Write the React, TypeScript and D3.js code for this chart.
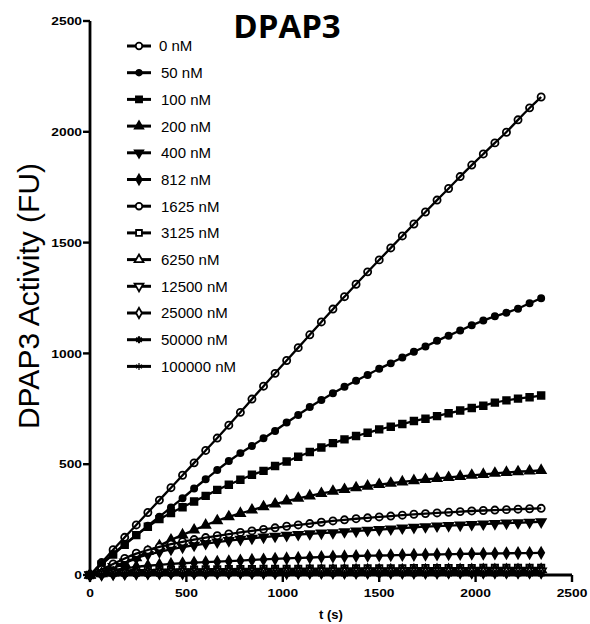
import React from "react";
import * as d3 from "d3";

const times = [0,60,120,180,240,300,360,420,480,540,600,660,720,780,840,900,960,1020,1080,1140,1200,1260,1320,1380,1440,1500,1560,1620,1680,1740,1800,1860,1920,1980,2040,2100,2160,2220,2280,2340];

const concentrations = ["0 nM","50 nM","100 nM","200 nM","400 nM","812 nM","1625 nM","3125 nM","6250 nM","12500 nM","25000 nM","50000 nM","100000 nM"];

const s0 = [0,56,114,170,226,282,338,394,450,506,562,618,676,734,794,852,910,968,1026,1084,1142,1200,1256,1312,1368,1422,1476,1530,1584,1638,1692,1744,1798,1850,1900,1950,1998,2054,2108,2157];
const s50 = [0,50,95,140,180,222,263,305,346,390,432,474,514,550,582,617,650,688,722,758,790,820,850,877,903,931,955,982,1007,1031,1057,1080,1103,1127,1148,1168,1183,1202,1226,1249];
const s100 = [0,48,92,136,180,218,252,280,306,332,357,384,407,430,452,470,492,512,534,555,575,595,612,627,642,657,669,681,695,705,717,730,742,754,764,778,788,796,802,810];
const s200 = [0,12,30,52,78,106,132,158,181,203,225,245,263,278,293,308,320,334,346,357,368,378,386,394,401,408,414,420,426,431,436,440,445,450,454,459,463,466,469,472];
const s400 = [0,18,38,58,76,92,105,116,126,134,142,149,155,161,166,171,175,179,183,186,189,191,195,198,202,205,208,212,215,218,221,223,225,228,230,232,234,236,238,240];
const s812 = [0,12,22,30,37,42,46,50,53,56,58,60,62,65,68,70,73,75,77,79,81,83,84,86,87,88,89,90,91,92,93,94,95,96,96,97,98,99,99,100];
const s1625 = [0,25,50,75,98,113,127,139,150,160,169,177,185,192,199,206,213,220,226,232,238,244,249,254,258,262,266,270,274,277,280,283,286,289,291,293,295,297,299,301];
const s3125 = [0,8,13,17,20,22,23,24,25,25,26,26,27,27,27,28,28,28,28,29,29,29,29,30,30,30,30,30,31,31,31,31,31,31,32,32,32,32,32,32];
const s6250 = [0,6,10,13,15,16,17,18,18,19,19,19,20,20,20,20,21,21,21,21,21,21,22,22,22,22,22,22,22,22,23,23,23,23,23,23,23,23,23,24];
const s12500 = [0,4,7,9,10,11,12,12,13,13,13,14,14,14,14,14,15,15,15,15,15,15,15,15,16,16,16,16,16,16,16,16,16,16,17,17,17,17,17,17];
const s25000 = [0,3,5,6,7,8,8,9,9,9,9,10,10,10,10,10,10,10,10,11,11,11,11,11,11,11,11,11,11,11,11,12,12,12,12,12,12,12,12,12];
const s50000 = [0,2,3,4,4,5,5,5,5,5,6,6,6,6,6,6,6,6,6,6,6,6,6,6,7,7,7,7,7,7,7,7,7,7,7,7,7,7,7,7];
const s100000 = [0,1,1,2,2,2,2,2,2,3,3,3,3,3,3,3,3,3,3,3,3,3,3,3,3,3,3,3,3,3,3,3,3,3,3,3,3,3,3,3];

const seriesValues = [s0, s50, s100, s200, s400, s812, s1625, s3125, s6250, s12500, s25000, s50000, s100000];

const yTicks = [0, 500, 1000, 1500, 2000, 2500];
const xTicks = [0, 500, 1000, 1500, 2000, 2500];

type Mk = { type: d3.SymbolType; size: number; filled: boolean; rot?: number; sw?: number };
const markers: Mk[] = [
  { type: d3.symbolCircle, size: 40, filled: false },
  { type: d3.symbolCircle, size: 30, filled: true },
  { type: d3.symbolSquare, size: 44, filled: true },
  { type: d3.symbolTriangle, size: 36, filled: true },
  { type: d3.symbolTriangle, size: 36, filled: true, rot: 180 },
  { type: d3.symbolDiamond, size: 32, filled: true },
  { type: d3.symbolCircle, size: 40, filled: false },
  { type: d3.symbolSquare, size: 40, filled: false },
  { type: d3.symbolTriangle, size: 40, filled: false },
  { type: d3.symbolTriangle, size: 40, filled: false, rot: 180 },
  { type: d3.symbolDiamond, size: 36, filled: false },
  { type: d3.symbolAsterisk, size: 40, filled: false, sw: 2.2 },
  { type: d3.symbolAsterisk, size: 40, filled: false, sw: 1.2 },
];

const W = 590, H = 624;
const x = d3.scaleLinear().domain([0, 2500]).range([90, 572]);
const y = d3.scaleLinear().domain([0, 2500]).range([575, 21]);

function Marker({ m, cx, cy, scale = 1 }: { m: Mk; cx: number; cy: number; scale?: number }) {
  const d = d3.symbol().type(m.type).size(m.size * scale)() as string;
  return (
    <path
      d={d}
      transform={`translate(${cx},${cy})${m.rot ? ` rotate(${m.rot})` : ""}`}
      fill={m.filled ? "#000" : "#fff"}
      stroke="#000"
      strokeWidth={m.sw ?? 1.8}
    />
  );
}

export default function App() {
  const line = d3
    .line<number>()
    .x((_, i) => x(times[i]))
    .y((v) => y(v))
    .curve(d3.curveBasis);
  const tickFont = "'Liberation Sans', Arial, sans-serif";
  return (
    <svg width={W} height={H} style={{ position: "absolute", left: 0, top: 0, background: "#fff" }}>
      <rect width={W} height={H} fill="#fff" />
      {seriesValues.map((vals, si) => (
        <g key={si}>
          {vals.map((v, i) => (
            <Marker key={i} m={markers[si]} cx={x(times[i])} cy={y(v)} />
          ))}
          <path d={line(vals) as string} fill="none" stroke="#000" strokeWidth={2.3} />
        </g>
      ))}
      <line x1={90} x2={90} y1={y(2500)} y2={y(0)} stroke="#000" strokeWidth={2.8} />
      <line x1={90} x2={572} y1={575} y2={575} stroke="#000" strokeWidth={2.8} />
      {yTicks.map((t) => (
        <g key={"y" + t}>
          <line x1={83} x2={90} y1={y(t)} y2={y(t)} stroke="#000" strokeWidth={2.4} />
          <text
            transform={`translate(82,${y(t)}) scale(1.2,1)`}
            textAnchor="end"
            dy="0.36em"
            fontFamily={tickFont}
            fontWeight="bold"
            fontSize={11.5}
          >
            {t}
          </text>
        </g>
      ))}
      {xTicks.map((t) => (
        <g key={"x" + t}>
          <line x1={x(t)} x2={x(t)} y1={575} y2={582} stroke="#000" strokeWidth={2.4} />
          <text
            transform={`translate(${x(t)},596.5) scale(1.2,1)`}
            textAnchor="middle"
            fontFamily={tickFont}
            fontWeight="bold"
            fontSize={11.5}
          >
            {t}
          </text>
        </g>
      ))}
      <text x={331} y={619} textAnchor="middle" fontFamily={tickFont} fontWeight="bold" fontSize={13}>
        t (s)
      </text>
      <text
        transform={`translate(39,296) rotate(-90)`}
        textAnchor="middle"
        fontFamily={tickFont}
        fontSize={30}
      >
        DPAP3 Activity (FU)
      </text>
      <text x={287} y={38} textAnchor="middle" fontFamily="'Open Sans', sans-serif" fontWeight="bold" fontSize={33}>
        DPAP3
      </text>
      {concentrations.map((c, i) => {
        const ly = 46 + i * 26.7;
        return (
          <g key={c}>
            <line x1={127} x2={151} y1={ly} y2={ly} stroke="#000" strokeWidth={3} />
            <Marker m={markers[i]} cx={139} cy={ly} scale={0.85} />
            <text x={i === 0 ? 159 : 161} y={ly} dy="0.36em" fontFamily={tickFont} fontSize={15}>
              {c}
            </text>
          </g>
        );
      })}
    </svg>
  );
}
